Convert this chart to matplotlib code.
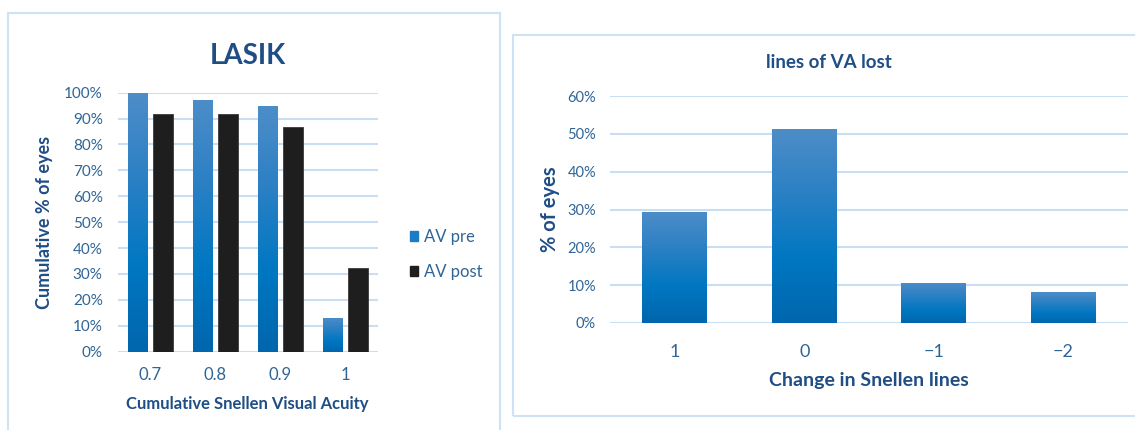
import numpy as np
import matplotlib.pyplot as plt
from matplotlib.colors import LinearSegmentedColormap
from matplotlib.patches import Rectangle
from matplotlib.ticker import PercentFormatter

plt.rcParams['font.family'] = ['Lato', 'DejaVu Sans']

# data
acuity = ['0.7', '0.8', '0.9', '1']
av_pre = [1.00, 0.973, 0.947, 0.132]
av_post = [0.918, 0.918, 0.866, 0.325]

lines_change = ['1', '0', '\u22121', '\u22122']
lines_lost = [0.294, 0.512, 0.107, 0.081]

navy = '#1f4e85'
tick_col = '#2f6596'
grid_col = '#c9def2'
frame_col = '#cfe2f3'
blue_grad = LinearSegmentedColormap.from_list('g', ['#0066ad', '#0077c2', '#2b80c4', '#4d8dc8'])


def gradient_bars(ax, bars):
    grad = np.linspace(0, 1, 256).reshape(-1, 1)
    for b in bars:
        x0, w, h = b.get_x(), b.get_width(), b.get_height()
        b.set_facecolor('none')
        im = ax.imshow(grad, cmap=blue_grad, origin='lower', aspect='auto',
                       extent=(x0, x0 + w, 0, h), zorder=b.get_zorder())
        im.set_clip_path(b)


def style(ax, ymax, step):
    for s in ax.spines.values():
        s.set_visible(False)
    ax.set_ylim(0, ymax)
    ax.set_yticks(np.arange(0, ymax + 1e-9, step))
    ax.yaxis.set_major_formatter(PercentFormatter(1.0, decimals=0))
    ax.grid(axis='y', color=grid_col, lw=1.5)
    ax.set_axisbelow(True)
    ax.tick_params(length=0, labelsize=11, labelcolor=tick_col)


fig = plt.figure(figsize=(11.35, 4.30), dpi=100)
W, H = 1135, 430

# panel frames
fig.patches.append(Rectangle((8 / W, -0.02), 492 / W, 1 - 13 / H + 0.02, transform=fig.transFigure,
                             fill=False, ec=frame_col, lw=1.5))
fig.patches.append(Rectangle((513 / W, 1 - 416 / H), 0.6, (416 - 35) / H, transform=fig.transFigure,
                             fill=False, ec=frame_col, lw=1.5))

# left chart
ax1 = fig.add_axes([118 / W, 1 - 351.7 / H, 260 / W, 259 / H])
x = np.arange(len(acuity))
bw = 20 / 65
pre = ax1.bar(x - 2.5 / 65 - bw / 2, av_pre, bw, color='#0070c0', label='AV pre', zorder=2)
post = ax1.bar(x + 2.5 / 65 + bw / 2, av_post, bw, color='#1e1e1e', edgecolor='#3a3a3a', lw=0.6,
               label='AV post', zorder=2)
ax1.set_xlim(-0.5, len(acuity) - 0.5)
style(ax1, 1.0, 0.1)
gradient_bars(ax1, pre)
ax1.set_xticks(x, acuity)
ax1.tick_params(axis='y', pad=11)
ax1.tick_params(axis='x', pad=11, labelsize=12)
ax1.set_title('LASIK', fontsize=20, fontweight='bold', color=navy, pad=21)
ax1.set_xlabel('Cumulative Snellen Visual Acuity', fontsize=12, fontweight='bold', color=navy)
ax1.xaxis.set_label_coords(0.496, -0.171)
ax1.set_ylabel('Cumulative % of eyes', fontsize=13, fontweight='bold', color=navy)
ax1.yaxis.set_label_coords(-0.25, 0.5)
leg = ax1.legend(handles=[Rectangle((0, 0), 1, 1, color='#1a7cc6'), Rectangle((0, 0), 1, 1, color='#1e1e1e')],
                 labels=['AV pre', 'AV post'], loc='center left', bbox_to_anchor=(1.065, 0.375), frameon=False,
                 fontsize=12, handlelength=0.5, handleheight=0.5, handletextpad=0.35, labelspacing=1.15,
                 labelcolor=tick_col)

# right chart
ax2 = fig.add_axes([610 / W, 1 - 323 / H, 518 / W, 227 / H])
x2 = np.arange(len(lines_change))
bars2 = ax2.bar(x2, lines_lost, 0.5, color='#0070c0', zorder=2)
ax2.set_xlim(-0.5, len(lines_change) - 0.5)
style(ax2, 0.6, 0.1)
gradient_bars(ax2, bars2)
ax2.set_xticks(x2, lines_change)
ax2.tick_params(axis='y', pad=10, labelsize=10.5)
ax2.tick_params(axis='x', pad=15, labelsize=13)
ax2.set_title('lines of VA lost', fontsize=13.5, fontweight='bold', color=navy, pad=20, x=0.423)
ax2.set_xlabel('Change in Snellen lines', fontsize=14, fontweight='bold', color=navy)
ax2.xaxis.set_label_coords(0.5, -0.216)
ax2.set_ylabel('% of eyes', fontsize=14.5, fontweight='bold', color=navy)
ax2.yaxis.set_label_coords(-0.097, 0.5)

fig.savefig('out.png', dpi=100)
